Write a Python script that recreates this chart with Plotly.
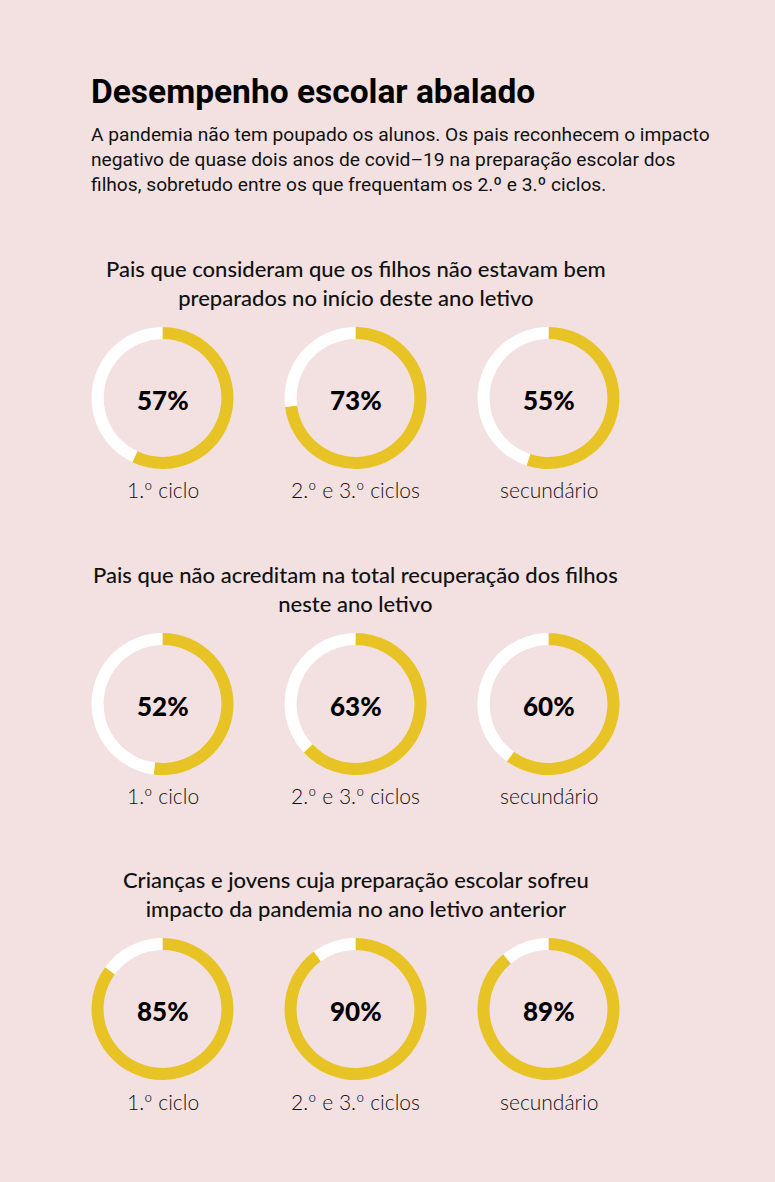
import plotly.graph_objects as go

# ---- data ----
section_titles = [
    "Pais que consideram que os filhos não estavam bem<br>preparados no início deste ano letivo",
    "Pais que não acreditam na total recuperação dos filhos<br>neste ano letivo",
    "Crianças e jovens cuja preparação escolar sofreu<br>impacto da pandemia no ano letivo anterior",
]
categories = ["1.º ciclo", "2.º e 3.º ciclos", "secundário"]
row1_values = [57, 73, 55]
row2_values = [52, 63, 60]
row3_values = [85, 90, 89]
rows = [row1_values, row2_values, row3_values]

title = "Desempenho escolar abalado"
subtitle = ("A pandemia não tem poupado os alunos. Os pais reconhecem o impacto<br>"
            "negativo de quase dois anos de covid–19 na preparação escolar dos<br>"
            "filhos, sobretudo entre os que frequentam os 2.º e 3.º ciclos.")

# ---- layout ----
W, H = 775, 1182
BG = "#f3e1e1"
YELLOW = "#e8c326"
col_cx = [162.5, 355.5, 548.5]
row_cy = [398, 704, 1009]
title_y = [283, 589, 894]
R = 71

def px(x):
    return x / W

def py(y):
    return 1 - y / H

fig = go.Figure()
annotations = []
for r, vals in enumerate(rows):
    for c, v in enumerate(vals):
        cx, cy = col_cx[c], row_cy[r]
        fig.add_trace(go.Pie(
            values=[v, 100 - v],
            sort=False,
            direction="clockwise",
            rotation=0,
            hole=0.83,
            marker=dict(colors=[YELLOW, "#ffffff"], line=dict(width=0)),
            textinfo="none",
            hoverinfo="skip",
            showlegend=False,
            domain=dict(x=[px(cx - R), px(cx + R)], y=[py(cy + R), py(cy - R)]),
        ))
        annotations.append(dict(
            x=px(cx), y=py(cy + 2), xref="paper", yref="paper",
            text=f"{v}%", showarrow=False,
            font=dict(family="Lato", size=26, color="#000000", weight=900),
            xanchor="center", yanchor="middle"))
        annotations.append(dict(
            x=px(cx), y=py(cy + 92), xref="paper", yref="paper",
            text=categories[c], showarrow=False,
            font=dict(family="Lato", size=21, color="#111111", weight=300),
            xanchor="center", yanchor="middle"))
    annotations.append(dict(
        x=px(355.5), y=py(title_y[r]), xref="paper", yref="paper",
        text=section_titles[r], showarrow=False,
        font=dict(family="Lato", size=22, color="#111111", weight=500),
        xanchor="center", yanchor="middle", align="center"))

annotations.append(dict(
    x=px(89), y=py(92), xref="paper", yref="paper",
    text=f"<b>{title}</b>", showarrow=False,
    font=dict(family="Roboto", size=33.5, color="#000000"),
    xanchor="left", yanchor="middle"))
annotations.append(dict(
    x=px(89), y=py(159), xref="paper", yref="paper",
    text=subtitle, showarrow=False, align="left",
    font=dict(family="Roboto", size=19.2, color="#111111"),
    xanchor="left", yanchor="middle"))

fig.update_layout(
    width=W, height=H,
    margin=dict(l=0, r=0, t=0, b=0),
    paper_bgcolor=BG, plot_bgcolor=BG,
    annotations=annotations,
)

fig.write_html("out.html")
